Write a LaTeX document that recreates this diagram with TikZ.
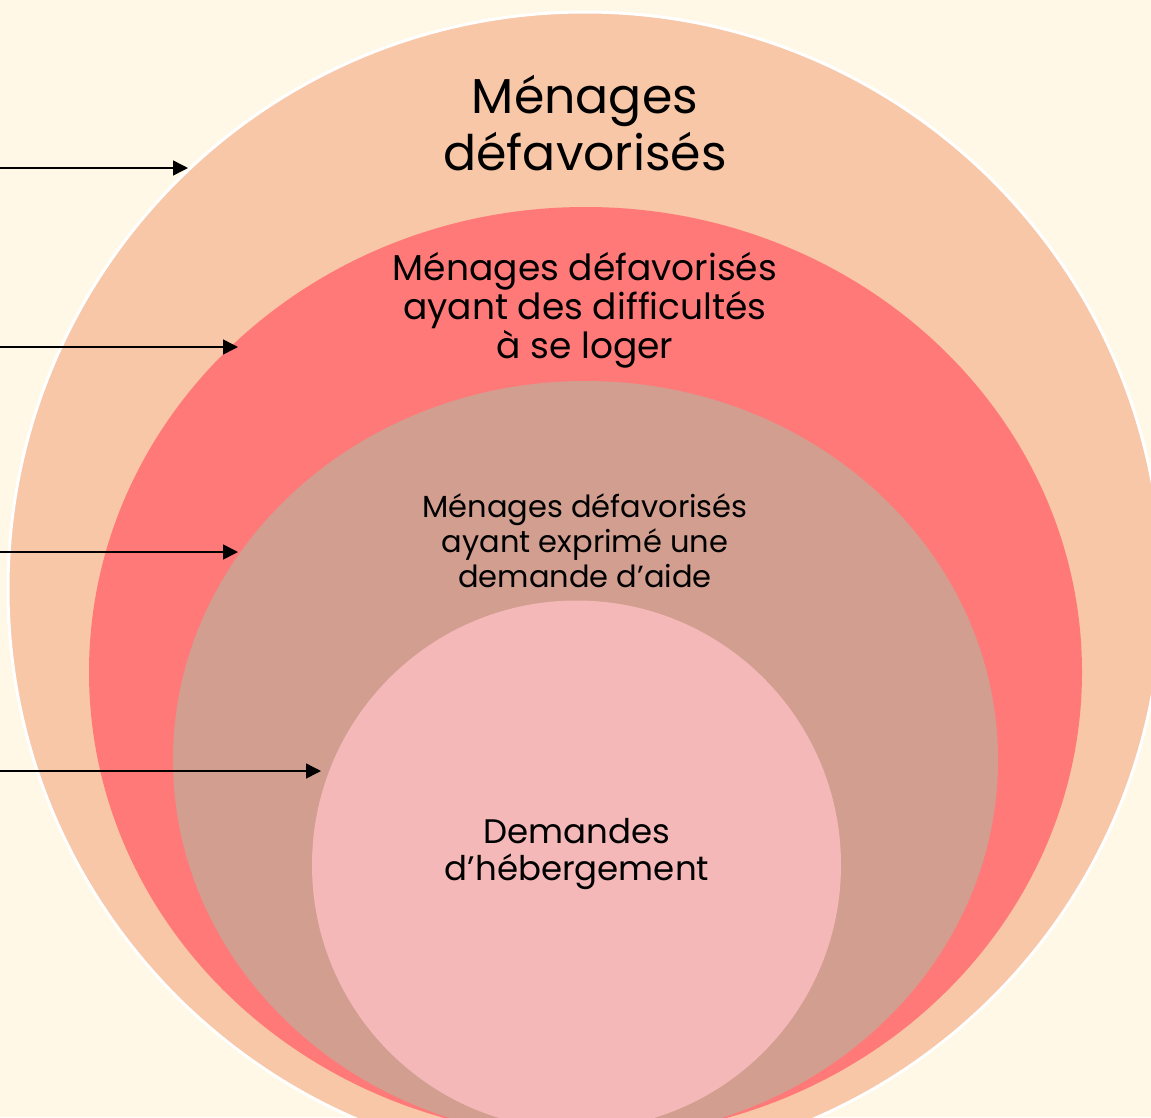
\documentclass[tikz,border=0pt]{standalone}
\usepackage{fontspec}
\setmainfont{Poppins}
\usetikzlibrary{shapes.geometric,arrows.meta}
\definecolor{bgc}{HTML}{FFF8E6}
\definecolor{peachc}{HTML}{F8C7A7}
\definecolor{redc}{HTML}{FF7979}
\definecolor{brownc}{HTML}{D29E90}
\definecolor{pinkc}{HTML}{F4B8B8}
\begin{document}
\begin{tikzpicture}[x=1pt,y=-1pt,
  disc/.style={inner sep=0pt, outer sep=0pt, draw=none},
  lbl/.style={align=center, text=black, inner sep=0pt, anchor=base},
  arr/.style={line width=1.5pt, -{Triangle[length=15pt,width=15pt]}}]
\useasboundingbox (0,0) rectangle (1151,1117);
\fill[bgc] (0,0) rectangle (1151,1117);
\begin{scope}
\clip (0,0) rectangle (1151,1117);
\node[disc, circle, minimum size=1154pt, fill=peachc, draw=white, line width=3pt] (c1) at (585,589) {};
\node[disc, ellipse, minimum width=993pt, minimum height=930pt, fill=redc] (c2) at (585.5,672) {};
\node[disc, ellipse, minimum width=825pt, minimum height=758pt, fill=brownc] (c3) at (585.5,760) {};
\node[disc, circle, minimum size=529pt, fill=pinkc] (c4) at (576.5,865) {};
\end{scope}
\node[lbl, font=\fontsize{49}{57}\selectfont] (t1) at (585,170) {Ménages\\défavorisés};
\node[lbl, font=\fontsize{36}{35.5}\selectfont] (t2) at (585,358) {Ménages défavorisés\\ayant des difficultés\\à se loger};
\node[lbl, font=\fontsize{30.5}{35}\selectfont] (t3) at (585,587) {Ménages défavorisés\\ayant exprimé une\\demande d’aide};
\node[lbl, font=\fontsize{34}{37}\selectfont] (t4) at (577,880) {Demandes\\d’hébergement};
\coordinate (s1) at (0,168);   \coordinate (e1) at (188,168);
\coordinate (s2) at (0,347);   \coordinate (e2) at (238,347);
\coordinate (s3) at (0,552);   \coordinate (e3) at (238,552);
\coordinate (s4) at (0,771);   \coordinate (e4) at (321,771);
\draw[arr] (s1) -- (e1);
\draw[arr] (s2) -- (e2);
\draw[arr] (s3) -- (e3);
\draw[arr] (s4) -- (e4);
\end{tikzpicture}
\end{document}
